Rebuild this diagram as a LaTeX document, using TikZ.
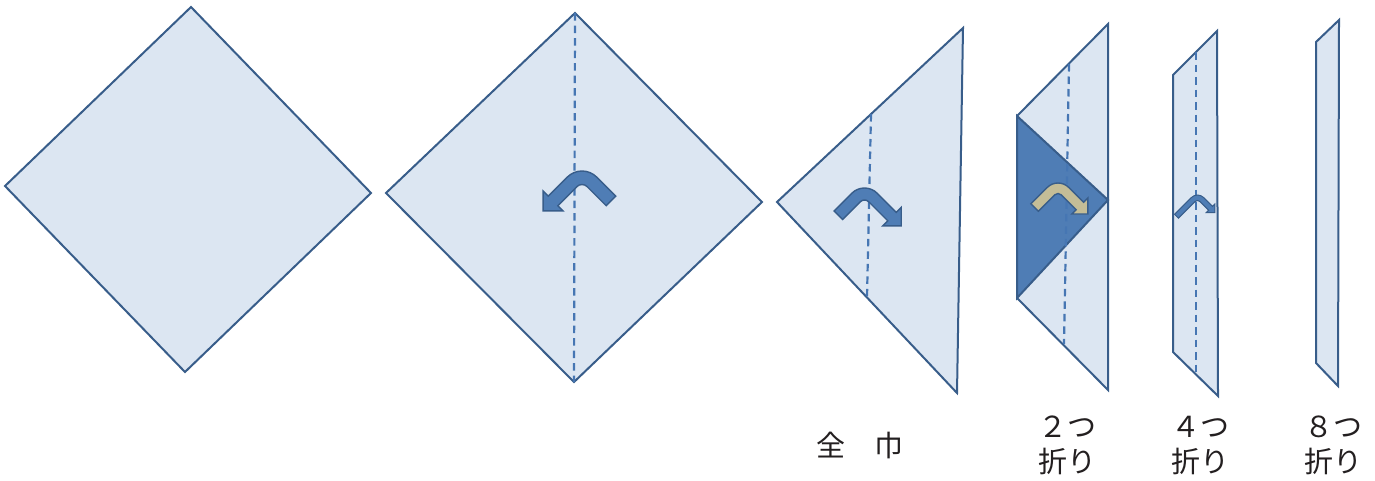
\documentclass[tikz,border=0pt]{standalone}
\usepackage{fontspec}
\newfontfamily\jpfont{Noto Sans CJK JP}
\definecolor{paper}{HTML}{DCE6F2}
\definecolor{edge}{HTML}{385D8A}
\definecolor{crease}{HTML}{4676B3}
\definecolor{flap}{HTML}{4F7DB5}
\definecolor{tanfill}{HTML}{C4BD97}
\definecolor{ink}{HTML}{231F20}

\tikzset{
  sheet/.style={fill=paper, draw=edge, line width=2pt, line join=miter},
  flapface/.style={fill=flap, draw=edge, line width=2pt, line join=miter},
  creaseline/.style={draw=crease, line width=2.2pt, dash pattern=on 7.5pt off 5pt},
  bluearrow/.style={fill=flap, draw=edge, line width=1.4pt, line join=miter},
  tanarrow/.style={fill=tanfill, draw=edge, line width=1.4pt, line join=miter},
  foldlabel/.style={font=\jpfont\fontsize{29}{35}\selectfont, text=ink,
                    align=center, inner sep=0pt},
}

% Bent fold arrow: #1 placement, #2 style, #3 band width, #4 bend radius,
% #5 tail arm length, #6 head arm length, #7 head half width
\newcommand\bentarrow[7]{%
  \begin{scope}[#1]
    \pgfmathsetmacro\bro{#4+#3/2}%
    \pgfmathsetmacro\bri{#4-#3/2}%
    \pgfmathsetmacro\bhx{#7-#3/2}%
    \pgfmathsetmacro\bhd{1.41421*#7}%
    \path[#2] (135:\bro) ++(225:#5) -- (135:\bro)
      arc[start angle=135, end angle=45, radius=\bro]
      -- ++(-45:#6) -- ++(45:\bhx) -- ++(-90:\bhd) -- ++(180:\bhd)
      -- ++(45:\bhx) -- (45:\bri)
      arc[start angle=45, end angle=135, radius=\bri]
      -- ++(225:#5) -- cycle;
  \end{scope}}

\begin{document}
\begin{tikzpicture}[x=1pt, y=-1pt]
  \useasboundingbox (0,0) rectangle (1375,480);

  % open square cloth
  \path[sheet] (5,186) -- (191,7) -- (371,193) -- (185,372) -- cycle;

  % square with centre crease and fold arrow
  \coordinate (d2t) at (575,13);
  \coordinate (d2b) at (574,382);
  \path[sheet] (386,193) -- (d2t) -- (762,202) -- (d2b) -- cycle;
  \path[creaseline] (d2t) -- (d2b);
  \bentarrow{shift={(582,191.75)}, yscale=-1, xscale=-1}{bluearrow}{13.5}{14}{27}{27}{14}

  % triangle (full width)
  \coordinate (t3a) at (871,114);
  \coordinate (t3b) at (867,297);
  \path[sheet] (777,202) -- (963,28) -- (957,393) -- cycle;
  \path[creaseline] (t3a) -- (t3b);
  \bentarrow{shift={(864.5,206)}, yscale=-1}{bluearrow}{12}{12}{25}{27}{13}

  % folded in two
  \coordinate (f2a) at (1069,64);
  \coordinate (f2b) at (1064,344);
  \path[sheet] (1108,24) -- (1017,116) -- (1017,298) -- (1108,390) -- cycle;
  \path[flapface] (1017,116) -- (1108,200) -- (1017,298) -- cycle;
  \path[creaseline] (f2a) -- (f2b);
  \bentarrow{shift={(1058,198.25)}, yscale=-1}{tanarrow}{10.5}{10}{23}{21}{11.3}

  % folded in four
  \coordinate (f4a) at (1196,52);
  \coordinate (f4b) at (1196,375);
  \path[sheet] (1217,31) -- (1173,75) -- (1173,352) -- (1218,396) -- cycle;
  \path[creaseline] (f4a) -- (f4b);
  \bentarrow{shift={(1197.5,203.75)}, yscale=-1}{bluearrow, line width=1pt}{5.5}{6}{23.7}{12.4}{6}

  % folded in eight
  \path[sheet] (1339,20) -- (1316,42) -- (1316,363) -- (1338,386) -- cycle;

  % captions
  \node[foldlabel] (cap1) at (860,445) {全　巾};
  \node[foldlabel] (cap2) at (1067,445) {２つ\\折り};
  \node[foldlabel] (cap4) at (1200,445) {４つ\\折り};
  \node[foldlabel] (cap8) at (1333,445) {８つ\\折り};
\end{tikzpicture}
\end{document}
